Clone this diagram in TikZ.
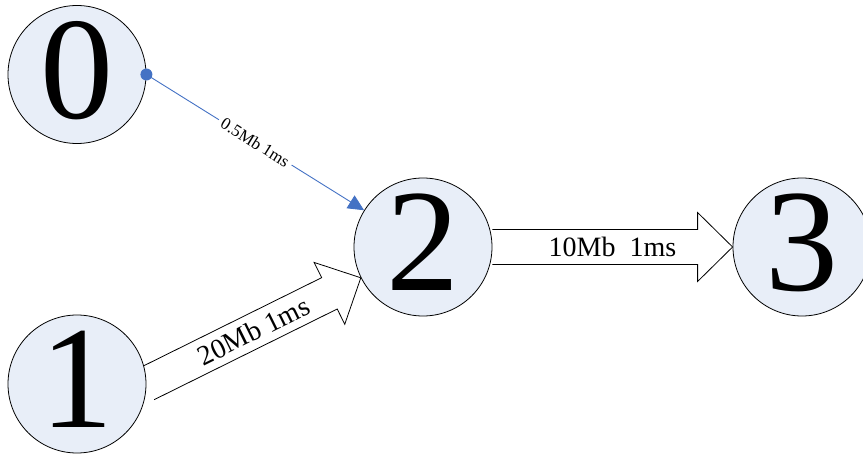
\documentclass[tikz,border=0pt]{standalone}
\usepackage{fontspec}
\setmainfont{Liberation Serif}
\usetikzlibrary{arrows.meta,calc,backgrounds}
\definecolor{nodefill}{RGB}{232,238,248}
\definecolor{linkblue}{RGB}{68,114,196}
\tikzset{
  circ/.style={circle, draw=black, line width=0.8pt, fill=nodefill, minimum size=138pt,
    inner sep=0pt, font=\fontsize{146}{146}\selectfont, text depth=10pt},
  blockarrow/.style={draw=black, line width=0.8pt, fill=white},
  biglabel/.style={font=\fontsize{28}{28}\selectfont, inner sep=0pt, text=black},
  smalllabel/.style={font=\fontsize{17}{17}\selectfont, fill=white, inner sep=4pt, text=black},
  bluelink/.style={draw=linkblue, line width=0.9pt, -{Triangle[length=16pt,width=15pt]}}
}
\begin{document}
\begin{tikzpicture}[x=1pt,y=-1pt]
\useasboundingbox (0,0) rectangle (863,454);
\node[circ] (n0) at (77,74.5) {0};
\node[circ] (n2) at (423,247) {2};
\node[circ] (n3) at (802,247) {3};
\node[circ] (n1) at (77,384) {1};

% tips of the block arrows
\path (n1.east) -- (n2) coordinate[pos=1] (t12);
\coordinate (a12) at (n1.east);
\coordinate (a23) at (n2.east);
\coordinate (t23) at (n3.west);

\begin{scope}[on background layer]
  \coordinate (h12) at ($(t12)!35pt!(a12)$);
  \draw[blockarrow]
    ($(a12)!17.5pt!90:(t12)$) -- ($(h12)!17.5pt!90:(t12)$) -- ($(h12)!34.5pt!90:(t12)$)
    -- (t12) -- ($(h12)!34.5pt!-90:(t12)$) -- ($(h12)!17.5pt!-90:(t12)$) -- ($(a12)!17.5pt!-90:(t12)$);
  \coordinate (h23) at ($(t23)!35pt!(a23)$);
  \draw[blockarrow]
    ($(a23)!17.5pt!90:(t23)$) -- ($(h23)!17.5pt!90:(t23)$) -- ($(h23)!34.5pt!90:(t23)$)
    -- (t23) -- ($(h23)!34.5pt!-90:(t23)$) -- ($(h23)!17.5pt!-90:(t23)$) -- ($(a23)!17.5pt!-90:(t23)$);
\end{scope}

\path (a12) -- (t12) node[midway, sloped, biglabel] (l12) {20Mb 1ms};
\path (a23) -- (t23) node[midway, sloped, biglabel] (l23) {10Mb\ \ 1ms};

\draw[bluelink] (n0.east) -- (n2) node[midway, sloped, smalllabel] (l02) {0.5Mb 1ms};
\fill[linkblue] (n0.east) circle (6pt);
\end{tikzpicture}
\end{document}
